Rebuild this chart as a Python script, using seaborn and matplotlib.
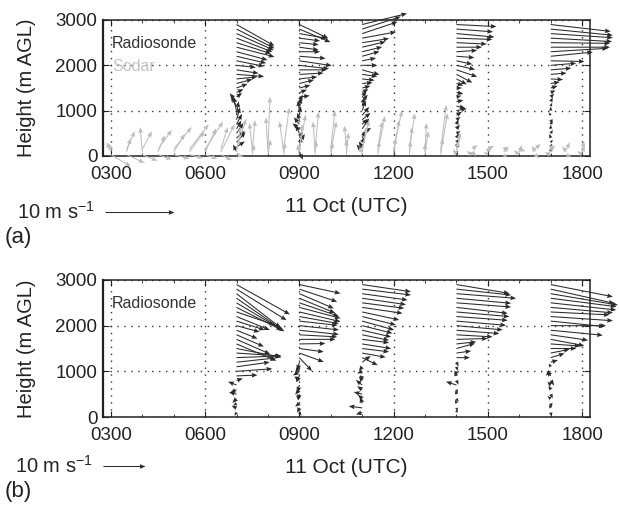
import pandas as pd
import matplotlib
matplotlib.use("Agg")
import matplotlib.pyplot as plt
import seaborn as sns
from matplotlib.ticker import MultipleLocator

# --- Données ---
tick_hours = [3, 6, 9, 12, 15, 18]
tick_labels = ["0300", "0600", "0900", "1200", "1500", "1800"]

sonde_times = [7, 9, 11, 14, 17]
sonde_heights = [100, 200, 300, 400, 500, 600, 700, 800, 900, 1000,
                 1100, 1200, 1300, 1400, 1500, 1600, 1700, 1800, 1900, 2000,
                 2100, 2200, 2300, 2400, 2500, 2600, 2700, 2800, 2900]

# (u, v) en m/s, du bas vers le haut -- panneau (a), radiosondages
a07 = [(-0.5, 1.0), (1.2, 0.8), (1.3, 1.5), (1.2, 1.0), (1.0, 1.5), (0.7, 1.2),
       (0.8, 1.5), (0.5, 1.8), (0.3, 2.0), (-0.5, 2.0), (-0.8, 1.5), (-1.0, 1.2),
       (0.8, 0.6), (1.0, 0.5), (1.6, 0.6), (2.3, 0.6), (3.0, 0.3), (4.0, -0.3),
       (3.2, -0.5), (2.8, -0.3), (4.0, -0.8), (4.3, -1.0), (4.5, -1.2), (5.5, -1.4),
       (5.0, -1.6), (5.2, -2.0), (5.4, -2.4), (5.5, -2.8), (5.5, -3.1)]
a09 = [(0.5, -1.2), (0.3, 1.5), (0.8, 1.2), (0.5, 1.0), (-0.5, 1.2), (-1.0, 0.8),
       (-0.8, 1.0), (-0.3, 1.0), (0.2, 1.3), (-0.2, 1.5), (0.3, 1.2), (0.5, 1.0),
       (1.5, 0.2), (1.1, 0.4), (1.6, 0.4), (2.1, 0.5), (2.6, 0.3), (3.5, 0.2),
       (4.0, 0.0), (4.3, -0.5), (4.7, -0.7), (3.8, -0.3), (3.0, 0.0), (2.8, -0.4),
       (2.8, -0.3), (3.0, -0.4), (4.0, -0.7), (4.5, -1.9), (4.2, -2.0)]
a11 = [(-0.8, 1.0), (-0.5, 0.8), (0.3, 0.8), (0.5, 1.0), (1.3, 0.8), (1.0, 1.5),
       (0.8, 0.8), (1.2, 1.0), (1.0, 1.2), (0.5, 1.5), (0.3, 1.3), (0.8, 1.0),
       (0.6, 0.9), (0.9, 0.5), (1.2, 0.3), (1.5, 0.1), (1.8, -0.2), (2.2, -0.3),
       (2.5, -0.7), (2.2, 0.0), (2.0, 0.4), (2.5, 0.7), (2.9, 0.7), (3.4, 0.8),
       (3.9, 0.6), (4.9, 0.9), (5.1, 1.7), (5.6, 1.8), (6.5, 1.6)]
a14 = [(0.2, -0.6), (0.4, 0.8), (0.5, 0.5), (0.4, 0.6), (0.6, 0.3), (0.5, 0.6),
       (0.3, 0.7), (0.6, 0.4), (0.8, 0.5), (1.5, 0.3), (1.3, -0.3), (1.0, 0.2),
       (0.7, 0.2), (1.0, -0.2), (0.8, 0.0), (1.0, -0.3), (1.5, -0.8), (2.3, -1.2),
       (3.0, -1.0), (2.7, -0.6), (2.3, -0.5), (2.6, -0.2), (3.0, 0.2), (3.7, 0.0),
       (4.4, -0.2), (5.2, -0.2), (5.5, -0.5), (5.3, -0.4), (5.8, -0.3)]
a17 = [(0.0, 0.6), (0.2, 0.5), (0.3, 0.4), (-0.2, 0.6), (0.3, 0.5), (0.0, 0.6),
       (0.2, 0.5), (0.3, -0.6), (-0.3, 0.4), (0.0, 0.6), (0.2, 0.5), (0.3, 0.6),
       (0.5, 0.5), (0.7, 0.3), (1.0, 0.3), (1.3, 0.2), (1.8, -0.1), (2.3, 0.2),
       (3.0, 0.25), (3.7, 0.3), (4.9, -0.1), (6.1, 0.6), (8.3, 0.5), (8.6, 0.0),
       (8.6, -0.1), (8.9, -0.5), (9.0, -0.6), (9.0, -0.9), (8.7, -1.0)]

# panneau (b)
b07 = [(-0.5, -0.8), (-1.2, 0.5), (-0.8, -0.5), (-1.0, -1.0), (-1.8, 0.5), (-1.5, -0.8),
       (-2.0, 0.8), (1.5, 0.5), (5.0, 0.2), (8.5, 0.6), (7.9, 1.1), (9.3, 1.0),
       (10.5, 0.4), (10.7, -0.7), (10.7, -2.1), (9.5, -4.0), (8.0, -3.5), (6.5, -2.8),
       (5.0, -2.0), (5.5, -1.5), (6.7, -2.1), (7.9, -3.2), (9.1, -3.1), (10.8, -5.4),
       (11.4, -6.8), (11.0, -7.6), (10.5, -8.1), (11.9, -7.4), (12.7, -7.1)]
b09 = [(0.5, -0.8), (-0.5, -1.2), (-1.0, -0.8), (-0.8, 0.8), (-0.3, -1.5), (-1.0, -1.2),
       (-0.5, -1.8), (-1.2, 1.0), (-0.8, -1.5), (-1.5, -1.0), (-1.0, -1.5), (-0.5, -2.0),
       (3.0, -3.2), (5.8, -2.1), (5.8, -0.8), (6.2, 0.1), (8.6, 0.0), (9.0, -0.5),
       (9.4, -1.0), (9.4, -1.0), (9.1, -1.0), (9.4, -1.7), (9.8, -2.3), (9.8, -2.6),
       (9.4, -3.2), (8.5, -3.5), (8.2, -3.5), (9.0, -3.0), (9.8, -2.1)]
b11 = [(-1.5, -0.5), (-3.2, 0.4), (-0.5, 1.5), (-1.0, 1.0), (-2.0, 0.5), (-1.2, 0.8),
       (-1.5, 1.2), (-0.8, 1.0), (-0.5, -1.2), (-1.2, -0.5), (-0.8, -1.0), (2.0, 1.5),
       (3.7, -1.8), (5.6, -1.0), (6.4, -0.8), (6.9, -1.1), (6.4, -0.8), (6.4, -1.3),
       (6.9, -1.6), (7.2, -1.8), (7.6, -2.1), (8.0, -2.0), (8.8, -1.9), (9.6, -1.4),
       (10.0, -1.3), (10.4, -1.5), (10.8, -1.5), (11.6, -1.4), (11.6, -1.7)]
b14 = [(0.2, 0.8), (0.3, -0.8), (-0.3, 0.9), (0.5, -0.8), (-0.2, 1.0), (0.3, -0.8),
       (-2.5, 0.8), (0.5, -1.0), (-0.3, 1.0), (-0.5, -1.2), (0.3, -1.0), (0.5, -1.0),
       (3.2, 0.0), (3.5, 0.5), (4.4, 1.2), (4.7, 0.5), (7.4, 0.2), (8.6, -0.5),
       (10.2, -0.8), (11.0, -1.0), (11.8, -1.0), (12.2, -0.9), (12.6, -1.1), (12.2, -1.4),
       (13.0, -1.0), (13.0, -1.2), (14.2, -1.1), (13.0, -1.4), (12.6, -2.1)]
b17 = [(0.2, -1.0), (-0.4, 0.8), (0.3, -1.0), (-0.8, 0.6), (0.5, -1.0), (-0.5, 1.0),
       (-0.8, 0.8), (0.8, -1.2), (-1.0, 1.2), (-1.2, -1.0), (-0.5, 0.8), (1.7, 0.5),
       (3.3, 1.0), (4.5, 0.9), (6.1, 0.0), (7.0, -0.5), (8.0, -1.5), (8.9, -1.3),
       (12.4, -1.2), (13.2, 0.0), (12.8, -1.3), (14.8, -1.0), (14.0, -0.7), (14.8, -1.3),
       (15.6, -1.7), (15.6, -2.0), (16.0, -2.7), (15.2, -3.4), (14.8, -2.9)]

# Sodar (panneau a) : toutes les 30 min, trois niveaux
sodar_times = [3.0, 3.5, 4.0, 4.5, 5.0, 5.5, 6.0, 6.5, 7.0, 7.5, 8.0, 8.5, 9.0, 9.5, 10.0, 10.5,
               11.0, 11.5, 12.0, 12.5, 13.0, 13.5, 14.0, 14.5, 15.0, 15.5, 16.0, 16.5, 17.0,
               17.5, 18.0]
sodar_heights = [30, 90, 150]
sodar_30 = [(2.9, -1.7), (2.6, -1.2), (2.2, -0.9), (2.0, -0.7), (2.3, -0.6), (2.0, -0.5),
            (1.8, -0.6), (1.6, -0.8), (1.0, -0.3), (0.3, 1.5), (0.4, 2.2), (0.2, 1.8),
            (-0.3, 1.5), (0.2, 2.0), (0.3, 1.8), (0.0, 2.2), (-0.4, 1.2), (0.2, 2.0),
            (0.3, 2.4), (0.2, 2.0), (0.0, 1.6), (0.3, 2.4), (-0.5, 0.8), (-0.8, 0.5),
            (-0.6, 0.4), (0.5, -0.4), (-0.8, 0.6), (0.6, -0.5), (-0.9, 0.3), (0.7, -0.3),
            (-0.7, 0.5)]
sodar_90 = [(-0.6, 1.4), (0.6, 2.0), (-0.3, 3.6), (1.0, 2.4), (1.6, 2.6), (2.2, 3.0),
            (1.6, 3.4), (2.0, 4.0), (0.6, 3.6), (0.4, 4.6), (-0.3, 5.0), (-0.6, 4.4),
            (0.4, 4.0), (-0.3, 4.4), (0.8, 4.4), (0.3, 2.8), (0.6, 3.6), (1.0, 5.2),
            (0.8, 4.6), (0.4, 3.6), (0.5, 3.0), (1.0, 5.6), (0.3, 1.6), (0.6, -0.6),
            (0.2, 0.9), (0.8, 0.7), (0.4, 1.0), (-0.4, 0.9), (0.2, 1.1), (-0.6, 0.8),
            (0.4, 0.9)]
sodar_150 = [(-0.2, 0.8), (1.2, 2.6), (1.4, 2.6), (2.0, 2.8), (2.6, 3.2), (2.8, 3.6),
             (2.6, 4.0), (1.0, 3.2), (1.4, 4.4), (-0.4, 3.8), (0.3, 7.6), (0.8, 6.0),
             (0.9, 5.0), (0.5, 5.4), (0.6, 5.6), (-0.3, 3.4), (1.0, 4.2), (0.6, 4.0),
             (1.2, 5.6), (0.8, 5.2), (0.2, 3.8), (0.8, 6.4), (0.6, 2.4), (0.8, 0.6),
             (0.9, 0.5), (0.6, 0.4), (0.9, -0.3), (0.8, 0.8), (0.7, 0.5), (0.5, 1.0),
             (0.3, 1.2)]

DARK = "#2b2b2b"
GREY = "#bebebe"

sns.set_theme(style="ticks")
plt.rcParams["font.family"] = ["Liberation Sans", "DejaVu Sans"]
plt.rcParams["mathtext.fontset"] = "custom"
plt.rcParams["mathtext.rm"] = "Liberation Sans"


def profiles_to_frame(profiles):
    rows = []
    for t, prof in zip(sonde_times, profiles):
        for h, (u, v) in zip(sonde_heights, prof):
            rows.append({"time": t, "height": h, "u": u, "v": v})
    return pd.DataFrame(rows)


def sodar_frame():
    rows = []
    for h, level in zip(sodar_heights, [sodar_30, sodar_90, sodar_150]):
        for t, (u, v) in zip(sodar_times, level):
            rows.append({"time": t, "height": h, "u": u, "v": v})
    return pd.DataFrame(rows)


def style_axes(ax):
    ax.set_xlim(2.75, 18.25)
    ax.set_ylim(0, 3000)
    ax.set_xticks(tick_hours)
    ax.set_xticklabels(tick_labels)
    ax.set_yticks([0, 1000, 2000, 3000])
    ax.xaxis.set_minor_locator(MultipleLocator(1))
    ax.tick_params(which="both", direction="in", top=True, right=True,
                   colors="#222222", labelsize=13.5)
    ax.tick_params(axis="x", pad=7)
    ax.tick_params(axis="y", pad=4)
    ax.tick_params(which="major", length=4, width=0.8)
    ax.tick_params(which="minor", length=2, width=0.6)
    for s in ax.spines.values():
        s.set_linewidth(1.1)
        s.set_color("#222222")
    ax.spines["left"].set_linewidth(1.6)
    ax.grid(True, which="major", linestyle=(0, (1, 4)), color="#333333", linewidth=1.0)
    ax.set_axisbelow(True)
    ax.set_ylabel("Height (m AGL)", fontsize=14.5, labelpad=14, color="#222222")
    ax.set_xlabel("11 Oct (UTC)", fontsize=15, labelpad=10, color="#222222")
    ax.set_facecolor("white")


def draw_quiver(ax, df, color, scale, z):
    q = ax.quiver(df["time"], df["height"], df["u"], df["v"],
                  angles="uv", scale_units="inches", scale=scale,
                  units="inches", width=0.0105, headwidth=4.5, headlength=5.5,
                  headaxislength=5.0, color=color, zorder=z)
    q.set_clip_on(False)
    return q


fig = plt.figure(figsize=(6.19, 5.09), dpi=100)
fig.patch.set_facecolor("white")

ax_a = fig.add_axes([103 / 619, 1 - 156 / 509, 487 / 619, 136 / 509])
ax_b = fig.add_axes([103 / 619, 1 - 417 / 509, 487 / 619, 137 / 509])

# (a) radiosondages + sodar
style_axes(ax_a)
qa = draw_quiver(ax_a, profiles_to_frame([a07, a09, a11, a14, a17]), DARK, 14.5, 3)
draw_quiver(ax_a, sodar_frame(), GREY, 14.5, 4)
ax_a.text(0.018, 0.83, "Radiosonde", transform=ax_a.transAxes, fontsize=11.5,
          color="#333333", va="center", zorder=5)
ax_a.text(0.018, 0.66, "Sodar", transform=ax_a.transAxes, fontsize=11.5,
          color="#c4c4c4", va="center", zorder=5)
ax_a.quiverkey(qa, X=105 / 619, Y=1 - 212 / 509, U=10, label="10 m s$^{-1}$",
               labelpos="W", coordinates="figure", color=DARK,
               fontproperties={"size": 14.5})

# (b) radiosondages seuls
style_axes(ax_b)
qb = draw_quiver(ax_b, profiles_to_frame([b07, b09, b11, b14, b17]), DARK, 23.8, 3)
ax_b.text(0.018, 0.83, "Radiosonde", transform=ax_b.transAxes, fontsize=11.5,
          color="#333333", va="center", zorder=5)
ax_b.quiverkey(qb, X=103 / 619, Y=1 - 466 / 509, U=10, label="10 m s$^{-1}$",
               labelpos="W", coordinates="figure", color=DARK,
               fontproperties={"size": 14.5})

fig.text(5 / 619, 1 - 237 / 509, "(a)", fontsize=16, va="center", color="#222222")
fig.text(5 / 619, 1 - 491 / 509, "(b)", fontsize=16, va="center", color="#222222")

fig.savefig("out.png", dpi=100, facecolor="white")
